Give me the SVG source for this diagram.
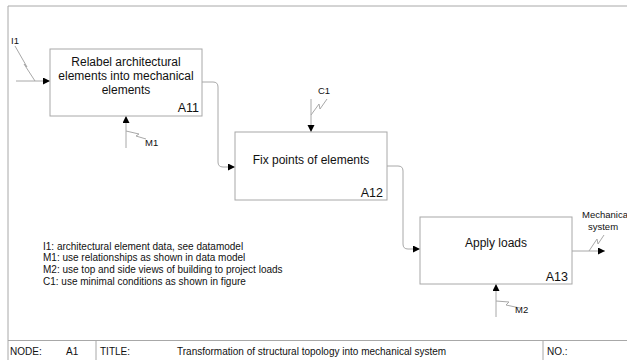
<svg xmlns="http://www.w3.org/2000/svg" width="627" height="360" viewBox="0 0 627 360">
<style>
text{font-family:"Liberation Sans",Arial,sans-serif;fill:#111}
.box{fill:#fff;stroke:#a8a8a8;stroke-width:1}
.frame{fill:none;stroke:#a8a8a8;stroke-width:1}
.c{fill:none;stroke:#a8a8a8;stroke-width:1}
.t{font-size:12px;text-anchor:middle}
.id{font-size:12.5px;text-anchor:end}
.lbl{font-size:9.5px}
.note{font-size:10px}
</style>
<defs>
<marker id="ah" markerWidth="8" markerHeight="8" refX="7" refY="3.5" orient="auto" markerUnits="userSpaceOnUse">
<path d="M0,0 L7,3.5 L0,7 Z" fill="#000"/>
</marker>
</defs>
<g id="frame">
<path class="frame" d="M8,360 V6 H640"/>
<path class="frame" d="M8,340.5 H640 M96,340.5 V360 M543,340.5 V360"/>
<text class="note" x="10" y="355">NODE:</text>
<text class="note" x="66" y="355">A1</text>
<text class="note" x="100" y="355">TITLE:</text>
<text class="note" x="177" y="355">Transformation of structural topology into mechanical system</text>
<text class="note" x="547" y="355">NO.:</text>
</g>
<g id="connectors">
<path class="c" d="M16,81 H50" marker-end="url(#ah)"/>
<path class="c" d="M15,46 L27,67 L24,64 L35,81"/>
<text class="lbl" x="11" y="44">I1</text>
<path class="c" d="M126,148 V116" marker-end="url(#ah)"/>
<path class="c" d="M126,131 L139,134 L136,136 L146,139"/>
<text class="lbl" x="145" y="146">M1</text>
<path class="c" d="M202,82 H213 Q218,82 218,87 V162 Q218,167 223,167 H235" marker-end="url(#ah)"/>
<path class="c" d="M311,99 V132" marker-end="url(#ah)"/>
<path class="c" d="M311,115 L319,104 L320,109 L327,99"/>
<text class="lbl" x="318" y="94">C1</text>
<path class="c" d="M387,166 H398 Q403,166 403,171 V244 Q403,249 408,249 H420" marker-end="url(#ah)"/>
<path class="c" d="M496,317 V284" marker-end="url(#ah)"/>
<path class="c" d="M496,301 L509,302 L506,305 L520,308"/>
<text class="lbl" x="515" y="313">M2</text>
<path class="c" d="M572,251 H605" marker-end="url(#ah)"/>
<path class="c" d="M589,251 L597,239 L598,244 L604,235"/>
<text class="lbl" x="582" y="217.5">Mechanica</text>
<text class="lbl" x="603" y="229.5" text-anchor="middle">system</text>
</g>
<g id="A11">
<rect class="box" x="50" y="49" width="152" height="67"/>
<text class="t" x="126" y="65.5">Relabel architectural</text>
<text class="t" x="126" y="80">elements into mechanical</text>
<text class="t" x="126" y="94">elements</text>
<text class="id" x="199" y="111.5">A11</text>
</g>
<g id="A12">
<rect class="box" x="235" y="132" width="152" height="68"/>
<text class="t" x="311" y="163.5">Fix points of elements</text>
<text class="id" x="383" y="196.5">A12</text>
</g>
<g id="A13">
<rect class="box" x="420" y="217" width="152" height="67"/>
<text class="t" x="496" y="247">Apply loads</text>
<text class="id" x="568" y="280.5">A13</text>
</g>
<g id="notes">
<text class="note" x="43" y="249.5">I1: architectural element data, see datamodel</text>
<text class="note" x="43" y="261">M1: use relationships as shown in data model</text>
<text class="note" x="43" y="273">M2: use top and side views of building to project loads</text>
<text class="note" x="43" y="285">C1: use minimal conditions as shown in figure</text>
</g>
</svg>
